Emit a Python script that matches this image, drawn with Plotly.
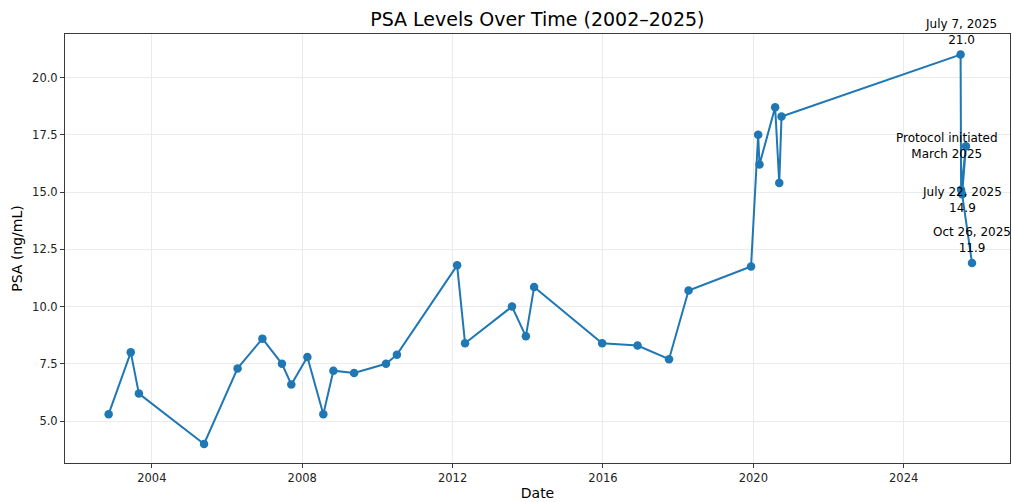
import plotly.graph_objects as go

dates = [
    "2002-11-07", "2003-06-10", "2003-08-28", "2005-05-22", "2006-04-13",
    "2006-12-10", "2007-06-18", "2007-09-17", "2008-02-20", "2008-07-24",
    "2008-10-30", "2009-05-19", "2010-03-25", "2010-07-09", "2012-02-14",
    "2012-05-01", "2013-07-31", "2013-12-13", "2014-03-03", "2015-12-24",
    "2016-12-02", "2017-10-04", "2018-04-12", "2019-12-10", "2020-02-17",
    "2020-03-01", "2020-07-31", "2020-09-09", "2020-10-01", "2025-07-07",
    "2025-07-12", "2025-08-28", "2025-07-22", "2025-10-26",
]
psa = [
    5.3, 8.0, 6.2, 4.0, 7.3,
    8.6, 7.5, 6.6, 7.8, 5.3,
    7.2, 7.1, 7.5, 7.9, 11.8,
    8.4, 10.0, 8.7, 10.85, 8.4,
    8.3, 7.7, 10.7, 11.75, 17.5,
    16.2, 18.7, 15.4, 18.3, 21.0,
    15.1, 17.0, 14.9, 11.9,
]

labels = [
    ("2025-07-07", 21.0, "July 7, 2025<br>21.0", 23),
    ("2025-03-01", 17.0, "Protocol initiated<br>March 2025", 0),
    ("2025-07-22", 14.9, "July 22, 2025<br>14.9", -6),
    ("2025-10-26", 11.9, "Oct 26, 2025<br>11.9", 23),
]

FONT = "DejaVu Sans"
BLUE = "#1f77b4"

fig = go.Figure()
fig.add_trace(go.Scatter(
    x=dates, y=psa, mode="lines+markers",
    line=dict(color=BLUE, width=2),
    marker=dict(color=BLUE, size=8.5),
    showlegend=False, cliponaxis=False,
))

for x, y, t, ys in labels:
    fig.add_annotation(x=x, y=y, text=t, showarrow=False, yshift=ys,
                       font=dict(family=FONT, size=12, color="#000000"),
                       align="center")

axis_common = dict(
    showline=True, linecolor="#3a3a3a", linewidth=1, mirror=True,
    ticks="outside", ticklen=4, tickcolor="#3a3a3a", tickwidth=1,
    showgrid=True, gridcolor="#ebebeb", gridwidth=1,
    zeroline=False, automargin=False,
    tickfont=dict(family=FONT, size=11.5, color="#222222"),
)

fig.update_layout(
    width=1012, height=502,
    margin=dict(l=65, r=2, t=34, b=39),
    paper_bgcolor="white", plot_bgcolor="white",
    font=dict(family=FONT, color="#000000"),
    title=dict(text="PSA Levels Over Time (2002–2025)", x=0.531, xanchor="center",
               y=0.962, yanchor="middle",
               font=dict(family=FONT, size=19, color="#000000")),
    xaxis=dict(
        range=["2001-09-09", "2026-10-30"],
        tick0="2004-01-01", dtick="M48", tickformat="%Y",
        title=dict(text="Date", font=dict(family=FONT, size=14, color="#000000"), standoff=4),
        **axis_common,
    ),
    yaxis=dict(
        range=[3.17, 21.9],
        tick0=5, dtick=2.5, tickformat=".1f",
        title=dict(text="PSA (ng/mL)", font=dict(family=FONT, size=14, color="#000000"), standoff=6),
        **axis_common,
    ),
)

fig.write_html("out.html", config={"displayModeBar": False},
               post_script="document.body.style.margin='0';document.body.style.overflow='hidden';")
